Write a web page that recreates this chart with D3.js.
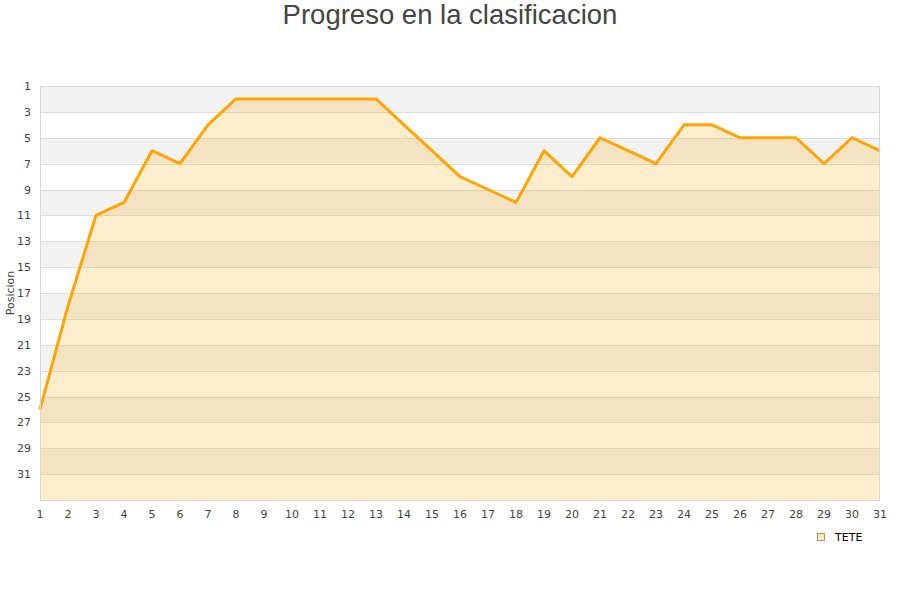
<!DOCTYPE html>
<html><head><meta charset="utf-8">
<script src="https://cdn.jsdelivr.net/npm/d3@7"></script>
<style>body{margin:0;background:#fff}svg{display:block;font-family:"DejaVu Sans",sans-serif}</style>
</head><body><svg id="c" width="900" height="600"></svg>
<script>
const jornadas = d3.range(1, 32);
const posiciones = [26,18,11,10,6,7,4,2,2,2,2,2,2,4,6,8,9,10,6,8,5,6,7,4,4,5,5,5,7,5,6];
const yTicks = d3.range(1, 33, 2);
const seriesName = "TETE";
const title = "Progreso en la clasificacion";
const yLabel = "Posicion";

const svg = d3.select("#c");
const L = 40, R = 880, T = 86, B = 500;
const x = d3.scaleLinear().domain([1, 31]).range([L, R]);
const y = d3.scaleLinear().domain([1, 33]).range([T, B]);

// bands
const bands = d3.range(1, 33, 2);
svg.append("g").selectAll("rect").data(bands).join("rect")
  .attr("x", L).attr("width", R - L)
  .attr("y", d => y(d)).attr("height", d => y(d + 2) - y(d))
  .attr("fill", (d, i) => i % 2 === 0 ? "#f2f2f2" : "#ffffff");

// grid
svg.append("g").selectAll("line").data(yTicks.slice(1)).join("line")
  .attr("x1", L).attr("x2", R).attr("y1", d => Math.round(y(d)) + 0.5).attr("y2", d => Math.round(y(d)) + 0.5)
  .attr("stroke", "#dedede").attr("stroke-width", 1);

// area
const pts = jornadas.map((j, i) => [j, posiciones[i]]);
svg.append("path").datum(pts)
  .attr("d", d3.area().x(d => x(d[0])).y0(B).y1(d => y(d[1])))
  .attr("fill", "rgba(255,165,0,0.2)");
svg.append("path").datum(pts)
  .attr("d", d3.line().x(d => x(d[0])).y(d => y(d[1])))
  .attr("fill", "none").attr("stroke", "#ffa500").attr("stroke-width", 3).attr("stroke-linejoin", "round");

// frame
svg.append("rect").attr("x", L + 0.5).attr("y", T + 0.5).attr("width", R - L - 1).attr("height", B - T)
  .attr("fill", "none").attr("stroke", "#d8d8d8");

// axes labels
svg.append("g").selectAll("text").data(yTicks).join("text")
  .attr("x", 31).attr("y", d => y(d) + 4).attr("text-anchor", "end")
  .attr("font-size", 11).attr("fill", "#444").text(d => d);
svg.append("g").selectAll("text").data(jornadas).join("text")
  .attr("x", d => x(d)).attr("y", 518).attr("text-anchor", "middle")
  .attr("font-size", 11).attr("fill", "#444").text(d => d);

svg.append("text").attr("transform", "translate(14,293) rotate(-90)")
  .attr("text-anchor", "middle").attr("font-size", 11).attr("fill", "#444").text(yLabel);

svg.append("text").attr("x", 450).attr("y", 24).attr("text-anchor", "middle")
  .attr("font-family", "'Liberation Sans', Arial, sans-serif").attr("font-size", 27.5).attr("fill", "#444").text(title);

// legend
svg.append("rect").attr("x", 817.5).attr("y", 533.5).attr("width", 7).attr("height", 7)
  .attr("fill", "#ffe7c0").attr("stroke", "#b09070");
svg.append("text").attr("x", 835).attr("y", 541).attr("font-size", 11).attr("fill", "#000").text(seriesName);
</script></body></html>
